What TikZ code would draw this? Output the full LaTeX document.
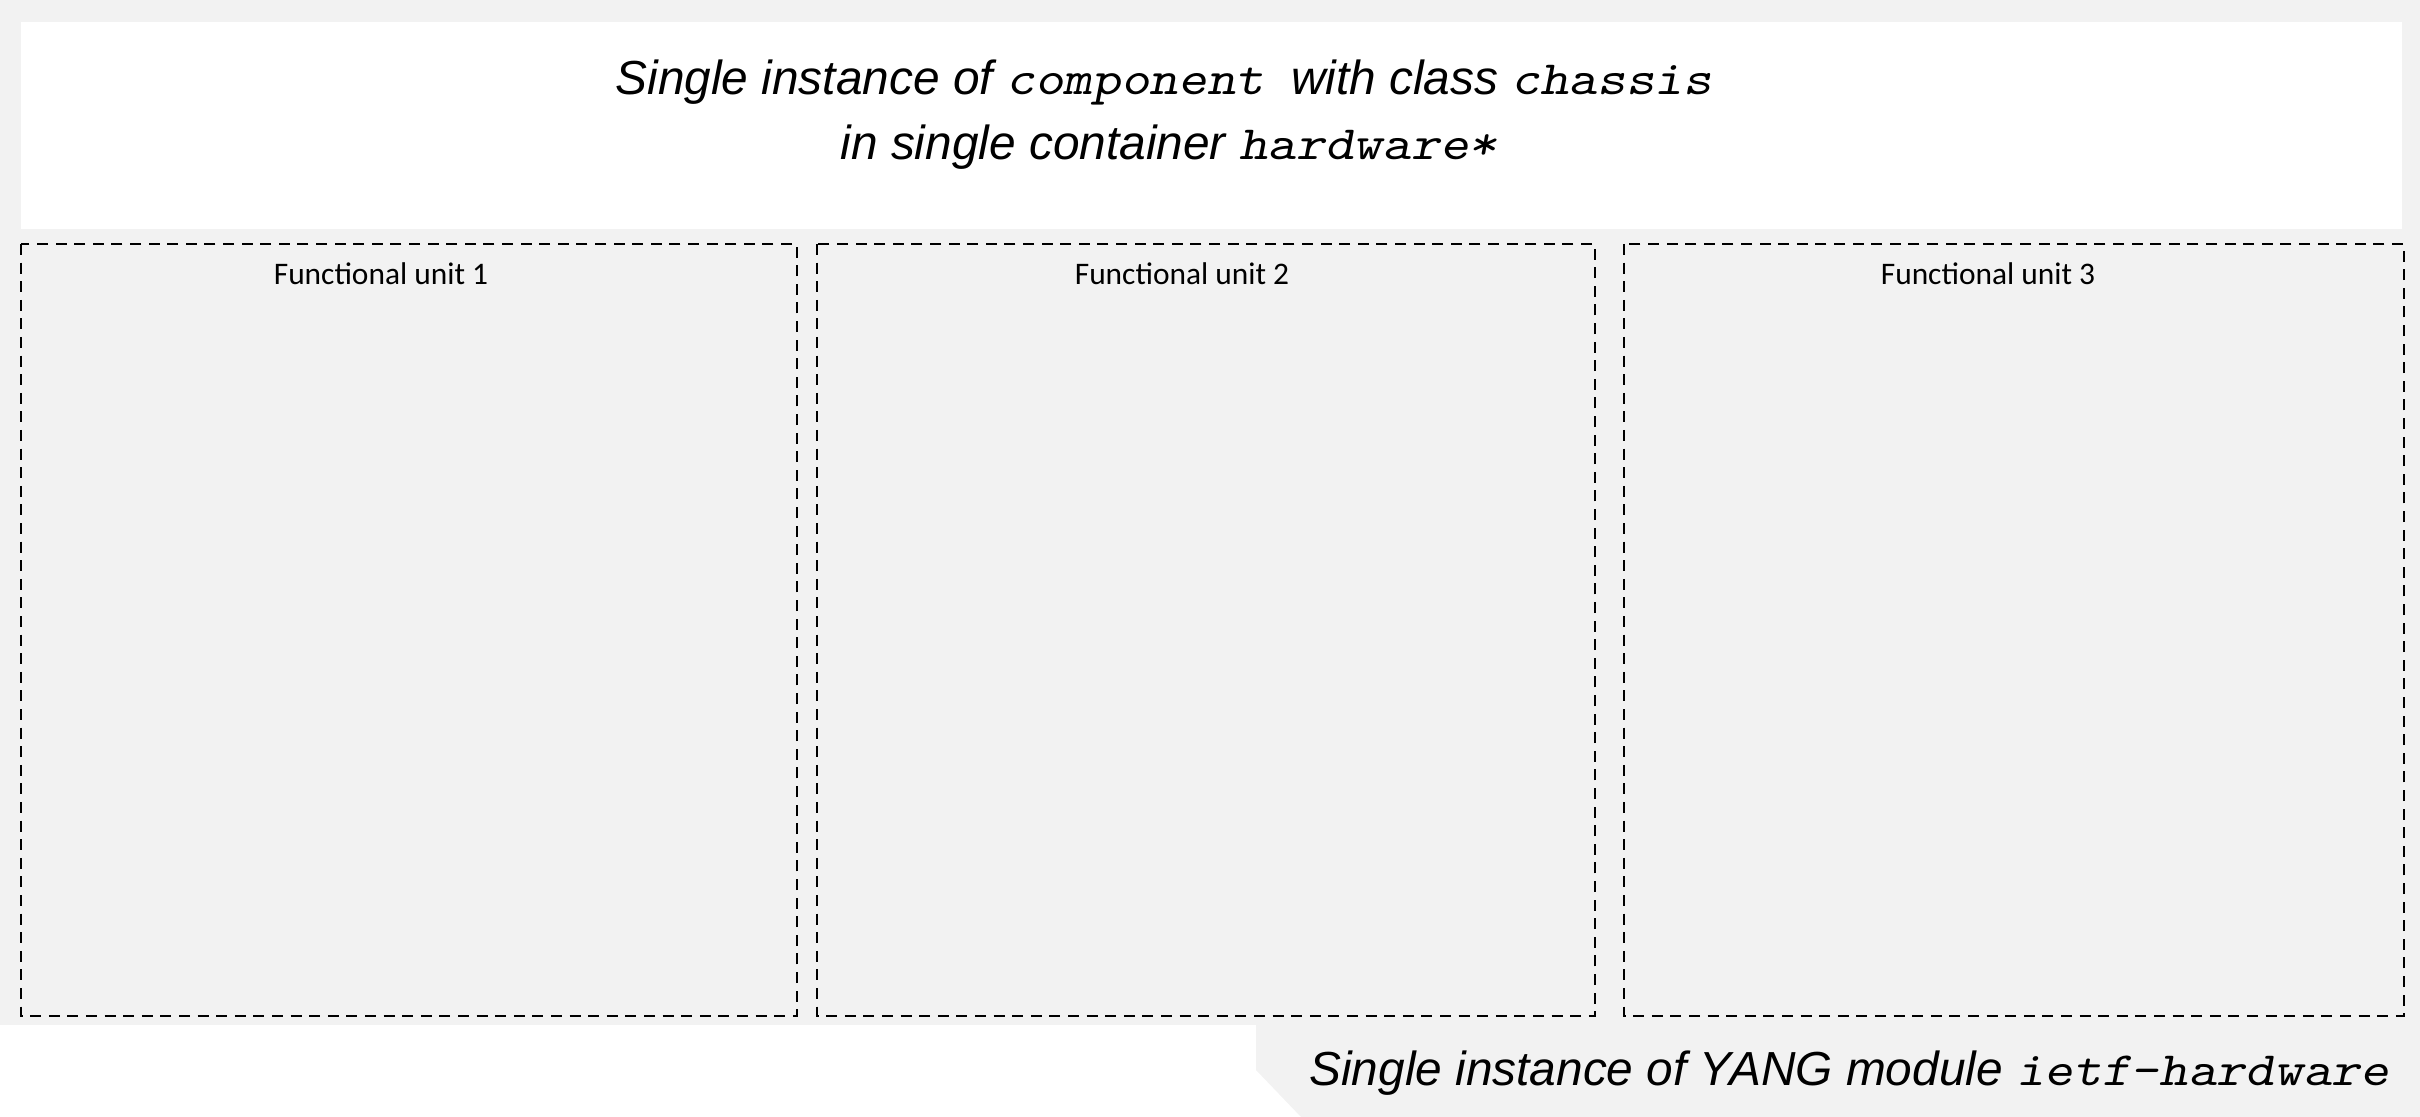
\documentclass[tikz,border=0pt]{standalone}
\usepackage{fontspec}
\usepackage{graphicx}
\setmainfont{Liberation Sans}
\newfontfamily\unitfont{Carlito}
\definecolor{panel}{HTML}{F2F2F2}
\tikzset{
  unitbox/.style={draw=black, line width=1.25pt, dash pattern=on 5.5pt off 3.8pt},
  unitlabel/.style={font=\unitfont\fontsize{15.7pt}{19pt}\selectfont, anchor=base, inner sep=0pt},
  titletext/.style={font=\itshape\fontsize{23.9pt}{28pt}\selectfont, anchor=base, inner sep=0pt},
}
% typewriter words, widened to the usual 0.6em typewriter pitch
\newcommand{\codeword}[1]{\scalebox{1.143}[1]{\ttfamily\slshape #1}}
\begin{document}
\begin{tikzpicture}[x=0.5pt, y=-0.5pt]
  \useasboundingbox (0,0) rectangle (2420,1117);
  % grey backdrop of the chassis and the module tab at the bottom right
  \fill[panel] (0,0) rectangle (2420,1025);
  \fill[panel] (1256,1024) -- (1256,1070) -- (1301,1117) -- (2420,1117) -- (2420,1024) -- cycle;
  % white title banner
  \fill[white] (21,22) rectangle (2402,229);
  \node[titletext] (title1) at (1164,95) {Single instance of \codeword{component}\ \ with class \codeword{chassis}};
  \node[titletext] (title2) at (1169,160) {in single container \codeword{hardware*}};
  % functional units
  \draw[unitbox] (21,244) rectangle (797,1016);
  \draw[unitbox] (817,244) rectangle (1595,1016);
  \draw[unitbox] (1624,244) rectangle (2404,1016);
  \node[unitlabel] (fu1) at (381,285) {Functional unit 1};
  \node[unitlabel] (fu2) at (1182,285) {Functional unit 2};
  \node[unitlabel] (fu3) at (1988,285) {Functional unit 3};
  % module caption
  \node[titletext, anchor=base west] (module) at (1309,1085) {Single instance of YANG module \codeword{ietf-hardware}};
\end{tikzpicture}
\end{document}
